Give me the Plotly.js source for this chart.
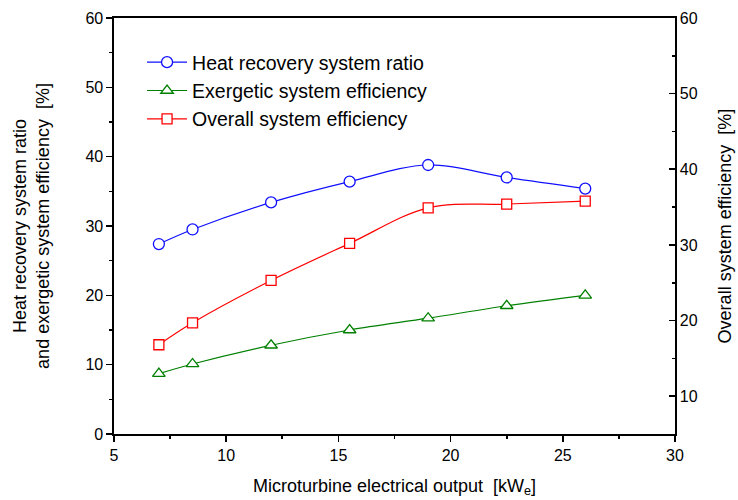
<!DOCTYPE html>
<html>
<head>
<meta charset="utf-8">
<script src="https://cdn.plot.ly/plotly-3.0.1.min.js"></script>
<style>html,body{margin:0;padding:0;background:#fff;}#chart{width:738px;height:500px;}</style>
</head>
<body>
<div id="chart"></div>
<script>
const outputKW = [7, 8.5, 12, 15.5, 19, 22.5, 26];
const heatRecoveryRatio = [27.4, 29.5, 33.4, 36.4, 38.8, 37.0, 35.4];
const exergeticEff = [8.7, 10.1, 12.8, 15.0, 16.7, 18.5, 20.0];
const overallEff = [16.8, 19.7, 25.3, 30.2, 34.9, 35.4, 35.8];
const seriesNames = ['Heat recovery system ratio', 'Exergetic system efficiency', 'Overall system efficiency'];

const font = 'Liberation Sans, Arial, sans-serif';
function tr(y, name, color, symbol, axis) {
  return {
    x: outputKW, y: y, name: name, yaxis: axis, type: 'scatter', mode: 'lines+markers',
    line: {color: color, width: 1.2, shape: 'spline', smoothing: 1},
    marker: {symbol: symbol, size: symbol === 'square' ? 10 : 11, color: '#ffffff', line: {color: color, width: 1.3}}
  };
}
const data = [
  tr(heatRecoveryRatio, seriesNames[0], '#1010ff', 'circle', 'y'),
  tr(exergeticEff, seriesNames[1], '#008000', 'triangle-up', 'y'),
  tr(overallEff, seriesNames[2], '#ff0000', 'square', 'y2')
];
const layout = {
  width: 738, height: 500,
  margin: {l: 114, r: 63, t: 18, b: 66},
  paper_bgcolor: '#fff', plot_bgcolor: '#fff',
  font: {family: font, size: 16, color: '#000'},
  showlegend: true,
  legend: {x: 0.05, y: 0.94, xanchor: 'left', yanchor: 'top', bgcolor: 'rgba(0,0,0,0)',
           font: {family: font, size: 19.5}, tracegroupgap: 0, itemwidth: 40},
  xaxis: {range: [5, 30], dtick: 5, tick0: 5, showgrid: false, zeroline: false,
          showline: true, linecolor: '#000', linewidth: 1.6, mirror: true,
          ticks: 'outside', ticklen: 6, tickwidth: 1.6, tickcolor: '#000',
          minor: {ticks: 'outside', dtick: 2.5, ticklen: 3, tickwidth: 1.6, tickcolor: '#000', showgrid: false},
          tickfont: {size: 16},
          title: {text: 'Microturbine electrical output  [kW<sub>e</sub>]', font: {size: 18}, standoff: 16}},
  yaxis: {range: [0, 60], dtick: 10, showgrid: false, zeroline: false,
          showline: true, linecolor: '#000', linewidth: 1.6,
          ticks: 'outside', ticklen: 6, tickwidth: 1.6, tickcolor: '#000',
          minor: {ticks: 'outside', dtick: 5, ticklen: 3, tickwidth: 1.6, tickcolor: '#000', showgrid: false},
          tickfont: {size: 16},
          title: {text: 'Heat recovery system ratio<br>and exergetic system efficiency  [%]', font: {size: 18}, standoff: 31}},
  yaxis2: {range: [5, 60], overlaying: 'y', side: 'right', tickvals: [10, 20, 30, 40, 50, 60],
           showgrid: false, zeroline: false,
           showline: true, linecolor: '#000', linewidth: 1.6,
           ticks: 'inside', ticklen: 6, tickwidth: 1.6, tickcolor: '#000',
           minor: {ticks: 'inside', tickvals: [15, 25, 35, 45, 55], ticklen: 3, tickwidth: 1.6, tickcolor: '#000', showgrid: false},
           tickfont: {size: 16},
           title: {text: 'Overall system efficiency  [%]', font: {size: 18}, standoff: 22}}
};
Plotly.newPlot('chart', data, layout, {staticPlot: true, displayModeBar: false});
</script>
</body>
</html>
